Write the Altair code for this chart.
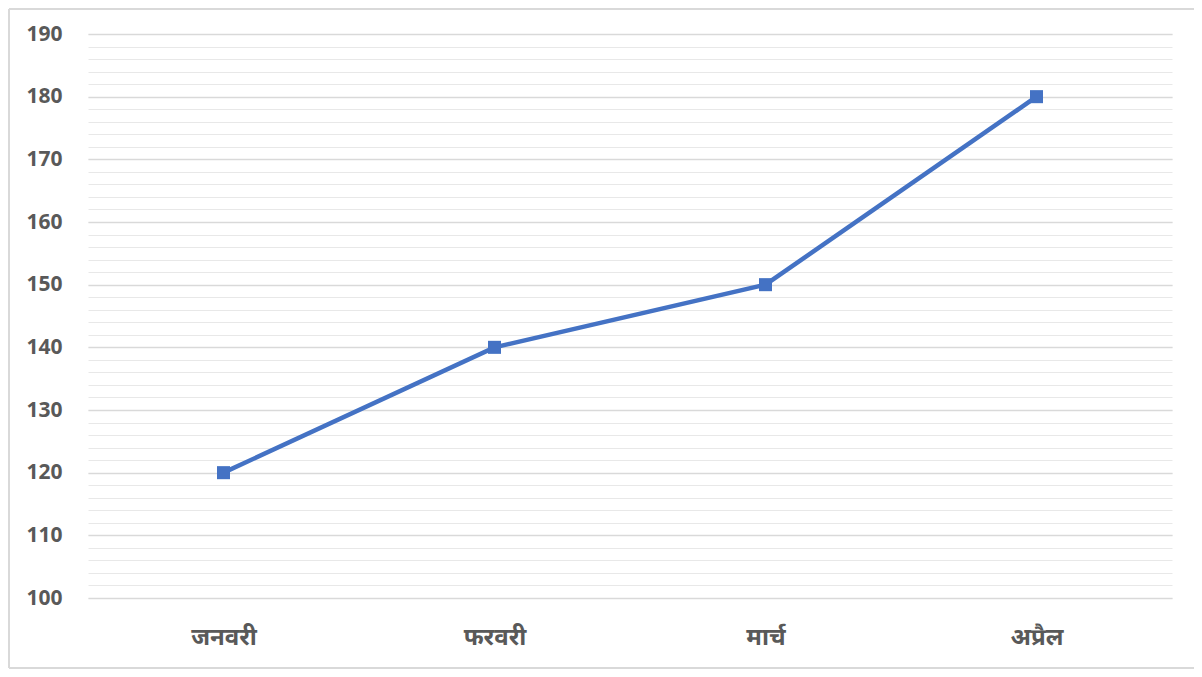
import altair as alt
import pandas as pd

months = ["जनवरी", "फरवरी", "मार्च", "अप्रैल"]
values = [120, 140, 150, 180]
major_ticks = [100, 110, 120, 130, 140, 150, 160, 170, 180, 190]
minor_ticks = [v for v in range(100, 191, 2)]

df = pd.DataFrame({"month": months, "value": values})

W, H = 1084, 564
FONT = "Noto Sans"

x_scale = alt.Scale(padding=0.5)
x_enc = alt.X("month:N", sort=months, scale=x_scale,
              axis=alt.Axis(title=None, labelAngle=0, labelFont=FONT, labelFontSize=24,
                            labelFontWeight="bold", labelColor="#595959", labelPadding=27,
                            ticks=False, domain=False, grid=False))
y_scale = alt.Scale(domain=[100, 190], nice=False, zero=False)

minor = alt.Chart(df).mark_line(opacity=0).encode(
    x=x_enc,
    y=alt.Y("value:Q", scale=y_scale,
            axis=alt.Axis(title=None, values=minor_ticks, labels=False, ticks=False,
                          domain=False, grid=True, gridColor="#e8e8e8", gridWidth=1,
                          orient="right")),
)

line = alt.Chart(df).mark_line(
    color="#4472C4", strokeWidth=4.5,
    point=alt.OverlayMarkDef(shape="square", size=170, color="#4472C4", filled=True, opacity=1),
).encode(
    x=x_enc,
    y=alt.Y("value:Q", scale=y_scale,
            axis=alt.Axis(title=None, values=major_ticks, labelFont=FONT, labelFontSize=21,
                          labelFontWeight="bold", labelColor="#595959", labelPadding=26,
                          ticks=False, domain=False, grid=True, gridColor="#d9d9d9",
                          gridWidth=1.5)),
)

frame_style = dict(color="#d9d9d9", strokeWidth=1.5)
left_edge = alt.Chart(df).mark_rule(**frame_style).encode(
    x=alt.value(-79), y=alt.value(-25), y2=alt.value(634))
top_edge = alt.Chart(df).mark_rule(**frame_style).encode(
    x=alt.value(-79), x2=alt.value(1200), y=alt.value(-25))
bottom_edge = alt.Chart(df).mark_rule(**frame_style).encode(
    x=alt.value(-79), x2=alt.value(1200), y=alt.value(634))

chart = alt.layer(minor, line, left_edge, top_edge, bottom_edge).resolve_scale(
    y="shared").resolve_axis(y="independent").properties(
    width=W, height=H,
    background="white",
    autosize=alt.AutoSizeParams(type="none"),
    padding={"left": 80, "top": 26, "right": 22, "bottom": 71},
).configure_view(stroke=None, strokeWidth=0).configure_axis(domain=False)

chart.save("out.html", embed_options={"renderer": "svg", "actions": False})
